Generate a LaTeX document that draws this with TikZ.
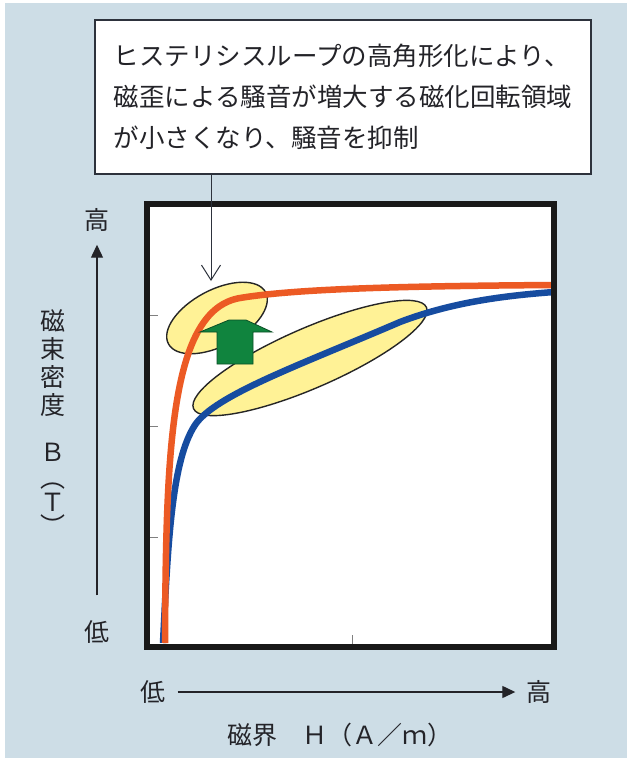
\documentclass[tikz,border=0pt]{standalone}
\usepackage{fontspec}
\setmainfont{Noto Sans CJK JP}
\usetikzlibrary{arrows.meta}
\definecolor{sfondo}{RGB}{205,221,230}
\definecolor{txtcol}{RGB}{35,35,40}
\definecolor{boxcol}{RGB}{45,50,60}
\definecolor{arancio}{RGB}{236,90,36}
\definecolor{blu}{RGB}{22,76,160}
\definecolor{giallo}{RGB}{255,242,150}
\definecolor{verde}{RGB}{16,132,62}
\begin{document}
\begin{tikzpicture}[x=1pt, y=-1pt,
  lab/.style={inner sep=0pt, text=txtcol, font=\fontsize{25}{25}\selectfont},
  asse/.style={draw=txtcol, line width=1.3pt, -{Triangle[length=13pt,width=12pt]}},
  tacca/.style={draw=black!50, line width=0.7pt},
  zona/.style={fill=giallo, draw=black!85, line width=1.4pt},
  curva/.style={line width=6.5pt}]
\useasboundingbox (0,0) rectangle (627,758);
%sfondo
\fill[white] (0,0) rectangle (627,758);
\fill[sfondo] (5,3) rectangle (627,758);
%grafico
\fill[white] (147,204) rectangle (554,647);
\foreach \y in {315, 426, 537}{
\draw[tacca] (150,\y) -- (158,\y);
}
\draw[tacca] (352,644) -- (352,635);
%zone
\draw[zona, rotate around={28:(217,318)}] (217,318) ellipse [x radius=55, y radius=28];
\draw[zona, rotate around={23.5:(310,358)}] (310,358) ellipse [x radius=127, y radius=30];
%curve
\draw[curva, blu] (163,643) .. controls (168,540) and (172,460) .. (195,425)
  .. controls (215,395) and (300,365) .. (400,322)
  .. controls (450,303) and (500,296) .. (554,292);
\draw[curva, arancio] (165,643) .. controls (166,450) and (170,310) .. (240,298)
  .. controls (300,288) and (420,286) .. (554,285);
%freccia verde
\draw[fill=verde, draw=verde!60!black, line width=0.8pt] (217,364) -- (217,332) -- (200,332) -- (229,320)
  -- (246,320) -- (272,332) -- (253,332) -- (253,364) -- cycle;
\draw[line width=5.5pt, draw=black!90] (147,204) rectangle (554,647);
%riquadro testo
\node[draw=boxcol, fill=white, line width=1.4pt, minimum width=496pt, minimum height=154pt,
  align=left, inner sep=0pt, text=txtcol, font=\fontsize{25.5}{41}\selectfont] (nota) at (343,97)
  {ヒステリシスループの高角形化により、\\磁歪による騒音が増大する磁化回転領域\\が小さくなり、騒音を抑制};
\coordinate (punta) at (211,281);
\draw[draw=boxcol, line width=1pt, -{Straight Barb[length=15pt,width=19pt]}] (nota.south -| punta) -- (punta);
%asse y
\node[lab] (ybasso) at (97,632) {低};
\node[lab] (yalto) at (97,220) {高};
\draw[asse, shorten <=25pt, shorten >=13pt] (ybasso) -- (yalto);
\node[lab, anchor=north, align=center, font=\fontsize{25}{28}\selectfont] (ylab) at (53,309)
  {磁\\束\\密\\度\\[19pt]Ｂ\\[-2pt]︵\\[-4pt]Ｔ\\[-4pt]︶};
%asse x
\node[lab] (xbasso) at (153,692) {低};
\node[lab] (xalto) at (539,692) {高};
\draw[asse, shorten <=12pt, shorten >=11pt] (xbasso) -- (xalto);
\node[lab] (xlab) at (340,735) {磁界　Ｈ（Ａ／ｍ）};
\end{tikzpicture}
\end{document}
